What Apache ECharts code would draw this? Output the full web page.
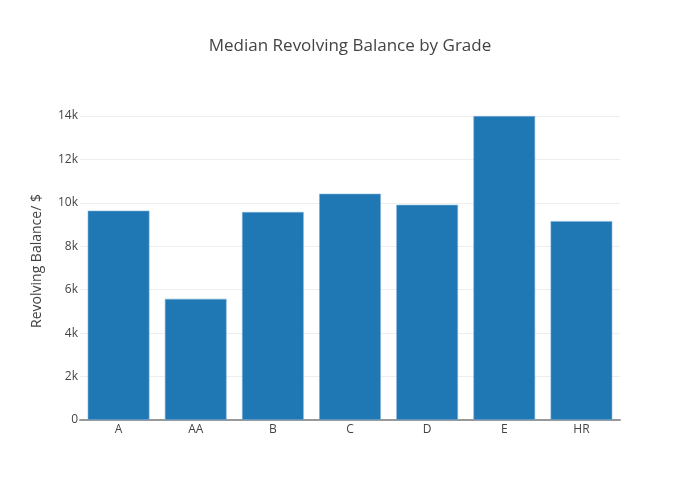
<!DOCTYPE html>
<html>
<head>
<meta charset="utf-8">
<script src="https://cdn.jsdelivr.net/npm/echarts@6/dist/echarts.min.js"></script>
<style>html,body{margin:0;padding:0;background:#fff}#c{width:700px;height:500px}</style>
</head>
<body>
<div id="c"></div>
<script>
var categories = ['A', 'AA', 'B', 'C', 'D', 'E', 'HR'];
var medianBalance = [9640, 5580, 9580, 10420, 9910, 14000, 9160];
var yTicks = [0, 2000, 4000, 6000, 8000, 10000, 12000, 14000];

var chart = echarts.init(document.getElementById('c'));
chart.setOption({
  animation: false,
  backgroundColor: '#fff',
  textStyle: { fontFamily: 'Open Sans' },
  title: {
    text: 'Median Revolving Balance by Grade',
    left: 'center',
    top: 33,
    textStyle: { fontFamily: 'Open Sans', fontSize: 17, fontWeight: 'normal', color: '#444' }
  },
  grid: { left: 80, right: 80, top: 116, bottom: 80, containLabel: false },
  xAxis: {
    type: 'category',
    data: categories,
    axisLine: { show: true, lineStyle: { color: '#999', width: 2 } },
    axisTick: { show: false },
    axisLabel: { color: '#444', fontSize: 12, fontFamily: 'Open Sans', margin: 4 },
    splitLine: { show: false }
  },
  yAxis: {
    type: 'value',
    min: 0,
    max: yTicks[yTicks.length - 1],
    interval: 2000,
    name: 'Revolving Balance/ $',
    nameLocation: 'middle',
    nameGap: 36,
    nameTextStyle: { color: '#444', fontSize: 14, fontFamily: 'Open Sans', padding: [0, 0, 0, 14] },
    axisLine: { show: false },
    axisTick: { show: false },
    axisLabel: {
      color: '#444', fontSize: 12, fontFamily: 'Open Sans', margin: 2,
      formatter: function (v) { return v === 0 ? '0' : (v / 1000) + 'k'; }
    },
    splitLine: { show: true, lineStyle: { color: '#eee', width: 1 } }
  },
  series: [{
    type: 'bar',
    data: medianBalance,
    barCategoryGap: '20%',
    itemStyle: { color: '#1f77b4', borderColor: '#7fb2d9', borderWidth: 0.6 }
  }]
});
</script>
</body>
</html>
